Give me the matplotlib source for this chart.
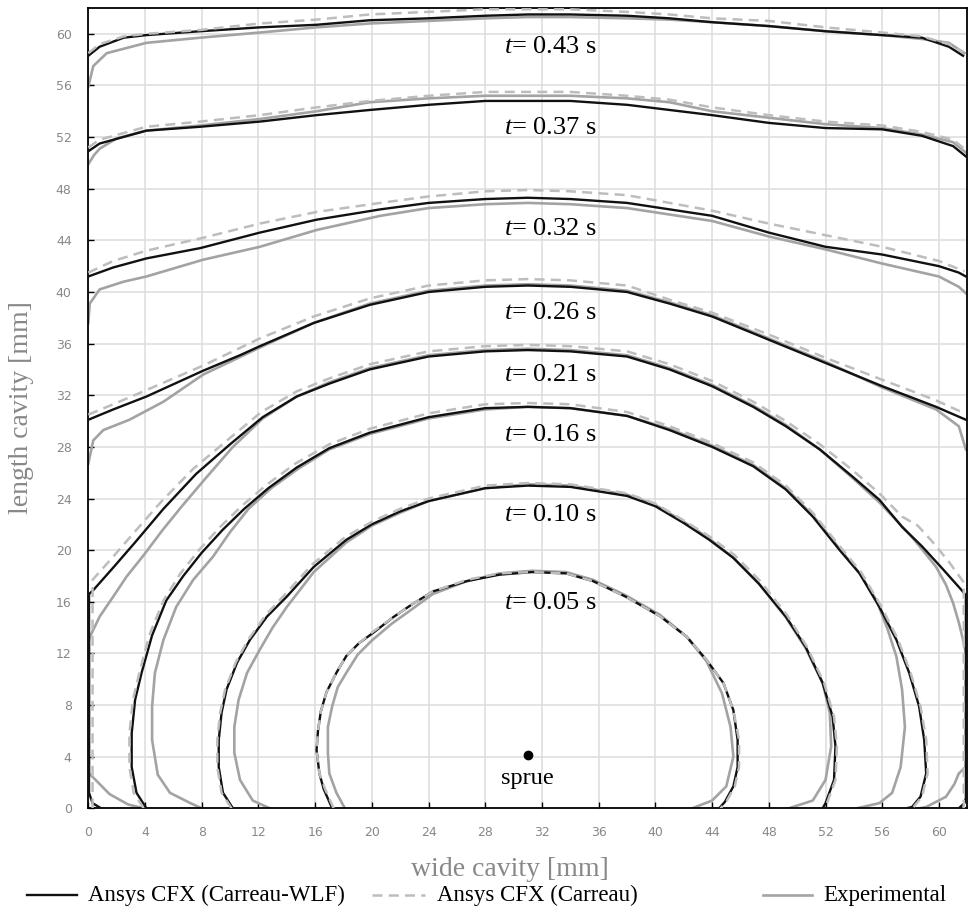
import matplotlib
matplotlib.use("Agg")
import matplotlib.pyplot as plt
from matplotlib.lines import Line2D

plt.rcParams["mathtext.fontset"] = "custom"
plt.rcParams["mathtext.rm"] = "Liberation Serif"
plt.rcParams["mathtext.it"] = "Liberation Serif:italic"

# flow front positions (x, y) in mm
# t = 0.05 s
cwlf_005 = [(17.2,0),(16.6,1.5),(16.3,2.7),(16.1,4.5),(16.2,6.0),(16.4,7.5),(16.8,9.0),(17.5,10.5),
            (18.2,11.8),(19.1,12.8),(20.1,13.6),(21.5,14.8),(22.7,15.7),(24.3,16.8),(26.7,17.6),
            (29.0,18.1),(31.3,18.3),(33.7,18.2),(35.6,17.6),(37.9,16.4),(40.3,14.9),(42.2,13.3),
            (43.6,11.5),(44.8,9.7),(45.5,7.6),(45.8,5.3),(45.8,3.2),(45.5,1.7),(44.9,0.5),(44.5,0)]
carr_005 = [(17.3,0),(16.7,1.5),(16.3,2.7),(16.1,4.5),(16.2,6.0),(16.4,7.5),(16.8,9.0),(17.5,10.5),
            (18.2,11.8),(19.1,12.8),(20.1,13.7),(21.5,14.8),(22.7,15.7),(24.3,16.8),(26.7,17.7),
            (29.0,18.2),(31.3,18.3),(33.7,18.2),(35.6,17.6),(37.9,16.4),(40.3,14.9),(42.2,13.3),
            (43.6,11.5),(44.8,9.7),(45.5,7.6),(45.9,5.3),(45.9,3.2),(45.6,1.7),(45.0,0.5),(44.6,0)]
exp_005 = [(18.1,0),(17.5,1.2),(17.0,2.7),(16.9,4.3),(16.9,6.3),(17.2,7.9),(17.6,9.4),(18.2,10.5),
           (19.0,11.9),(20.0,13.0),(21.4,14.3),(22.8,15.4),(24.3,16.6),(26.7,17.6),(29.0,18.2),
           (31.3,18.4),(33.7,18.3),(35.6,17.7),(37.9,16.5),(40.3,15.0),(42.2,13.3),(43.6,11.4),
           (44.7,8.9),(45.3,6.3),(45.5,4.0),(45.0,1.7),(44.0,0.6),(42.6,0)]

# t = 0.10 s
cwlf_010 = [(10.2,0),(9.5,1.2),(9.2,3.2),(9.2,5.3),(9.4,7.4),(9.75,9.2),(10.5,11.3),(11.4,13.05),
            (12.6,14.85),(14.0,16.4),(15.9,18.7),(18.2,20.8),(20,22.0),(22,23.0),(24,23.8),(28,24.8),
            (31,25.0),(34,24.9),(38,24.2),(40,23.4),(42,22.1),(43.8,20.8),(45.5,19.4),(47.3,17.4),
            (49.2,14.85),(50.6,12.5),(51.8,9.7),(52.5,7.1),(52.7,4.8),(52.6,2.2),(52.0,0.4),(51.8,0)]
carr_010 = [(10.1,0),(9.4,1.2),(9.1,3.2),(9.1,5.3),(9.3,7.4),(9.65,9.2),(10.4,11.3),(11.3,13.1),
            (12.5,14.95),(13.9,16.6),(15.8,18.9),(18.1,21.0),(20,22.2),(22,23.2),(24,24.0),(28,25.0),
            (31,25.2),(34,25.1),(38,24.4),(40,23.6),(42,22.3),(43.9,21.0),(45.6,19.6),(47.4,17.6),
            (49.3,14.95),(50.7,12.5),(51.9,9.7),(52.6,7.1),(52.8,4.8),(52.7,2.2),(52.1,0.4),(51.9,0)]
exp_010 = [(12.8,0),(11.6,0.6),(10.7,2.2),(10.3,4.3),(10.3,6.3),(10.6,8.4),(11.2,10.5),(12.1,12.3),
           (13.0,14.0),(14.0,15.6),(15.9,18.3),(18.2,20.6),(20,21.9),(22,22.9),(24,23.8),(28,24.8),
           (31,25.1),(34,25.0),(38,24.3),(40,23.5),(42,22.2),(43.8,20.9),(45.5,19.4),(47.3,17.4),
           (49.2,14.8),(50.6,12.4),(51.8,9.7),(52.3,7.4),(52.4,4.8),(52.0,2.2),(51.1,0.6),(49.4,0)]

# t = 0.16 s
cwlf_016 = [(4.1,0),(3.4,1.2),(3.06,3.2),(3.06,5.8),(3.3,8.4),(3.76,10.5),(4.5,13.4),(5.5,16.1),
            (6.7,18.0),(8.0,19.8),(9.5,21.6),(11.0,23.2),(12.7,24.8),(14.7,26.4),(17.0,27.9),
            (19.85,29.1),(24,30.3),(28,31.0),(31,31.1),(34,31.0),(38,30.4),(41,29.3),(44,28.0),
            (46.9,26.5),(49.2,24.7),(51.1,22.6),(53.0,20.0),(54.4,18.2),(55.8,15.6),(57.0,13.05),
            (57.9,10.5),(58.6,7.9),(58.96,5.3),(59.1,2.7),(58.7,0.9),(58.1,0.1),(57.7,0)]
carr_016 = [(3.9,0),(3.2,1.2),(2.9,3.2),(2.9,5.8),(3.15,8.4),(3.6,10.5),(4.3,13.4),(5.3,16.1),
            (6.5,18.2),(7.8,20.0),(9.3,21.8),(10.8,23.4),(12.5,25.0),(14.6,26.7),(17.0,28.2),
            (19.85,29.4),(24,30.6),(28,31.3),(31,31.4),(34,31.3),(38,30.7),(41,29.6),(44,28.3),
            (46.9,26.8),(49.2,25.0),(51.1,22.9),(53.0,20.3),(54.5,18.3),(55.9,15.7),(57.1,13.1),
            (58.0,10.5),(58.7,7.9),(59.1,5.3),(59.2,2.7),(58.8,0.9),(58.2,0.1),(57.8,0)]
exp_016 = [(8.0,0),(7.2,0.4),(5.76,1.2),(4.9,2.6),(4.5,5.3),(4.5,7.9),(4.7,10.5),(5.3,13.05),
           (6.2,15.6),(7.4,17.7),(8.8,19.5),(10.0,21.4),(11.3,23.2),(12.9,24.8),(14.8,26.3),
           (17.0,27.8),(19.85,29.0),(24,30.2),(28,30.9),(31,31.1),(34,31.0),(38,30.4),(41,29.4),
           (44,28.1),(46.9,26.6),(49.2,24.8),(51.1,22.7),(53.0,20.1),(54.4,18.2),(55.6,16.1),
           (56.4,13.8),(57.0,11.75),(57.4,9.2),(57.6,6.3),(57.3,3.2),(56.7,1.2),(55.8,0.4),(54.2,0)]

# t = 0.21 s
cwlf_021 = [(0.9,0),(0.3,0.4),(0.05,1.2),(0.05,16.6),(0.35,16.9),(1.8,18.7),(3.3,20.6),(5.3,23.2),
            (7.6,25.9),(10.0,28.2),(12.3,30.3),(14.7,31.9),(17.0,32.9),(19.85,34.0),(24,35.0),
            (28,35.4),(31,35.5),(34,35.4),(38,35.0),(41,34.0),(44,32.7),(46.9,31.1),(49.2,29.6),
            (51.6,27.8),(53.9,25.7),(55.8,23.9),(57.4,21.8),(58.8,20.3),(60.3,18.5),(61.6,16.9),
            (61.9,16.5),(61.9,0.8),(61.8,0.4),(61.4,0)]
carr_021 = [(0.3,0),(0.3,17.7),(1.6,19.3),(3.1,21.2),(5.1,23.7),(7.4,26.3),(9.9,28.6),(12.2,30.7),
            (14.7,32.3),(17.0,33.3),(19.85,34.4),(24,35.4),(28,35.8),(31,35.9),(34,35.8),(38,35.4),
            (41,34.4),(44,33.1),(46.9,31.5),(49.2,30.0),(51.6,28.2),(53.9,26.2),(55.8,24.4),
            (57.4,22.6),(58.5,21.9),(59.5,20.7),(60.7,19.1),(61.75,17.5),(61.75,0)]
exp_021 = [(3.9,0),(2.8,0.3),(1.5,1.1),(0.24,2.5),(0.05,2.7),(0.05,13.0),(0.12,13.3),(0.8,14.85),
           (1.76,16.4),(2.7,17.95),(3.9,19.6),(5.2,21.5),(6.6,23.4),(8.3,25.6),(10.2,28.0),
           (12.3,30.2),(14.7,31.9),(17.0,33.0),(19.85,34.1),(24,35.1),(28,35.5),(31,35.6),(34,35.5),
           (38,35.1),(41,34.1),(44,32.8),(46.9,31.2),(49.2,29.7),(51.6,27.8),(53.9,25.6),(55.8,23.7),
           (57.0,22.3),(58.1,21.0),(59.0,19.8),(59.8,18.7),(60.5,17.3),(61.0,15.9),(61.4,14.4),
           (61.7,13.05),(61.9,12.0),(61.9,3.2),(61.4,2.7),(61.1,1.9),(60.5,0.9),(59.1,0.1),(58.6,0)]

# t = 0.26 s
cwlf_026 = [(0,30.1),(1.76,30.9),(4.1,31.9),(5.3,32.5),(8.1,33.9),(10.7,35.1),(12.1,35.8),(15.9,37.6),
            (19.85,39.0),(24,40.0),(28,40.4),(31,40.5),(34,40.4),(38,40.0),(41,39.1),(44,38.1),
            (48,36.3),(52,34.5),(56,32.7),(59.8,31.1),(61.9,30.1)]
carr_026 = [(0,30.5),(1.76,31.3),(4.1,32.4),(8.1,34.3),(12.1,36.4),(15.9,38.1),(19.85,39.5),(24,40.5),
            (28,40.9),(31,41.0),(34,40.9),(38,40.5),(41,39.4),(44,38.4),(48,36.7),(52,34.9),(56,33.2),
            (59.8,31.6),(61.8,30.6)]
exp_026 = [(0,26.7),(0.35,28.5),(1.06,29.3),(2.9,30.1),(5.3,31.5),(8.1,33.6),(12.1,35.7),(15.9,37.6),
           (19.85,39.1),(24,40.1),(28,40.5),(31,40.6),(34,40.5),(38,40.1),(41,39.2),(44,38.2),(48,36.4),
           (52,34.6),(56,32.6),(59.8,30.9),(61.4,29.6),(61.9,27.8)]

# t = 0.32 s
cwlf_032 = [(0,41.2),(1.76,41.9),(4.1,42.6),(7.9,43.4),(12.1,44.6),(16.1,45.6),(20.6,46.4),(24,46.9),
            (28,47.2),(31,47.3),(34,47.2),(38,46.9),(41,46.4),(44,45.9),(48,44.6),(52,43.5),(56,42.9),
            (60,42.0),(61.4,41.5),(61.9,41.2)]
carr_032 = [(0,41.5),(1.76,42.4),(4.1,43.2),(8.1,44.2),(12.1,45.3),(16.1,46.2),(20.6,46.9),(24,47.4),
            (28,47.8),(31,47.9),(34,47.8),(38,47.5),(41,46.9),(44,46.3),(48,45.3),(52,44.4),(56,43.5),
            (60,42.4),(61.8,41.6)]
exp_032 = [(0,37.6),(0.1,39.1),(0.8,40.2),(2.5,40.8),(4.1,41.2),(8.1,42.5),(12.1,43.5),(16.1,44.8),
           (20.6,45.9),(24,46.5),(28,46.8),(31,46.9),(34,46.8),(38,46.5),(41,46.0),(44,45.5),(48,44.3),
           (52,43.3),(56,42.2),(60,41.2),(61.4,40.4),(61.9,39.9)]

# t = 0.37 s
cwlf_037 = [(0,50.9),(0.8,51.5),(4.1,52.5),(7.9,52.8),(12.1,53.2),(16.1,53.7),(19.85,54.1),(24,54.5),
            (28,54.8),(31,54.8),(34,54.8),(38,54.5),(41,54.1),(44,53.7),(48,53.1),(52,52.7),(56,52.6),
            (58.8,52.1),(61,51.3),(61.9,50.5)]
carr_037 = [(0,51.2),(0.8,51.8),(4.1,52.8),(7.9,53.2),(12.1,53.7),(16.1,54.3),(19.85,54.8),(24,55.2),
            (28,55.5),(31,55.5),(34,55.5),(38,55.2),(41,54.9),(44,54.3),(48,53.7),(52,53.2),(56,52.9),
            (58.8,52.4),(61,51.8),(61.9,51.0)]
exp_037 = [(0,49.9),(0.4,50.6),(0.8,51.1),(2,51.9),(4.1,52.5),(7.9,52.9),(12.1,53.4),(16.1,54.0),
           (19.85,54.7),(24,55.0),(28,55.2),(31,55.2),(34,55.2),(38,55.0),(41,54.7),(44,54.0),(48,53.5),
           (52,53.0),(56,52.7),(58.8,52.2),(61,51.6),(61.9,50.8)]

# t = 0.43 s
cwlf_043 = [(0,58.3),(0.8,59.0),(2.5,59.7),(4.1,59.9),(7.9,60.2),(12.1,60.5),(16.1,60.7),(19.85,61.05),
            (24,61.2),(28,61.4),(31,61.5),(34,61.5),(38,61.4),(41,61.2),(44,60.9),(48,60.6),(52,60.2),
            (56,59.9),(58.8,59.7),(60.7,59.0),(61.7,58.3)]
carr_043 = [(0,58.5),(0.8,59.2),(2.5,59.8),(4.1,60.0),(7.9,60.3),(12.1,60.8),(16.1,61.1),(19.85,61.5),
            (24,61.7),(28,61.9),(31,61.9),(34,61.9),(38,61.7),(41,61.5),(44,61.2),(48,61.0),(52,60.5),
            (56,60.1),(58.8,59.8),(60.7,59.2),(61.7,58.6)]
exp_043 = [(0,55.9),(0.35,57.5),(1.3,58.5),(4.1,59.3),(7.9,59.7),(12.1,60.1),(16.1,60.5),(19.85,60.8),
           (24,61.0),(28,61.2),(31,61.3),(34,61.3),(38,61.2),(41,61.1),(44,60.9),(48,60.6),(52,60.2),
           (56,59.9),(58.8,59.6),(60.7,59.3),(61.8,58.5)]

times = ["0.05", "0.10", "0.16", "0.21", "0.26", "0.32", "0.37", "0.43"]
label_x = 32.6
label_y = [15.9, 22.7, 28.9, 33.6, 38.4, 44.9, 52.7, 59.0]
sprue_x, sprue_y = 31.0, 4.1

cwlf = [cwlf_005, cwlf_010, cwlf_016, cwlf_021, cwlf_026, cwlf_032, cwlf_037, cwlf_043]
carr = [carr_005, carr_010, carr_016, carr_021, carr_026, carr_032, carr_037, carr_043]
expt = [exp_005, exp_010, exp_016, exp_021, exp_026, exp_032, exp_037, exp_043]

BLACK = "#111111"
DASH_GREY = "#bdbdbd"
EXP_GREY = "#a3a3a3"
SERIF = "Liberation Serif"

fig = plt.figure(figsize=(9.71, 9.18), dpi=100)
ax = fig.add_axes([88.3/971, 109.7/918, 879/971, 800.3/918])

for pts in expt:
    xs, ys = zip(*pts)
    ax.plot(xs, ys, color=EXP_GREY, lw=1.9, zorder=2, solid_joinstyle="round")
for pts in cwlf:
    xs, ys = zip(*pts)
    ax.plot(xs, ys, color=BLACK, lw=1.7, zorder=3, solid_joinstyle="round")
for pts in carr:
    xs, ys = zip(*pts)
    ax.plot(xs, ys, color=DASH_GREY, lw=1.8, dashes=(4, 2.5), zorder=4)

for t, ly in zip(times, label_y):
    ax.text(label_x, ly, f"$t$= {t} s", fontsize=19, family=SERIF,
            ha="center", va="center", zorder=5)

ax.plot(sprue_x, sprue_y, "o", color="black", ms=6, zorder=5)
ax.text(sprue_x, sprue_y - 1.8, "sprue", fontsize=17.5, family=SERIF,
        ha="center", va="center", zorder=5)

ax.set_xlim(0, 62)
ax.set_ylim(0, 62)
ax.set_xticks(range(0, 61, 4))
ax.set_yticks(range(0, 61, 4))
ax.grid(True, color="#dcdcdc", lw=1.1)
ax.set_axisbelow(True)
ax.tick_params(direction="in", length=4, width=1, color="black",
               labelcolor="#888888", labelsize=9)
ax.tick_params(axis="x", pad=13)
ax.tick_params(axis="y", pad=12)
for sp in ax.spines.values():
    sp.set_color("black")
    sp.set_linewidth(1.3)

fig.text(22/971, (918-408)/918, "length cavity [mm]", rotation=90, ha="center",
         va="center", fontsize=20, family=SERIF, color="#888888")
fig.text(510/971, (918-870)/918, "wide cavity [mm]", ha="center", va="center",
         fontsize=20, family=SERIF, color="#888888")

# legend row
ly = (918-895)/918
fig.add_artist(Line2D([27/971, 77/971], [ly, ly], color=BLACK, lw=1.7))
fig.add_artist(Line2D([372/971, 425/971], [ly, ly], color=DASH_GREY, lw=1.8, dashes=(4, 2.5)))
fig.add_artist(Line2D([763/971, 812/971], [ly, ly], color=EXP_GREY, lw=1.9))
for x0, txt in [(88, "Ansys CFX (Carreau-WLF)"), (437, "Ansys CFX (Carreau)"), (823, "Experimental")]:
    fig.text(x0/971, ly, txt, ha="left", va="center", fontsize=16.5, family=SERIF)

fig.savefig("out.png", dpi=100)
